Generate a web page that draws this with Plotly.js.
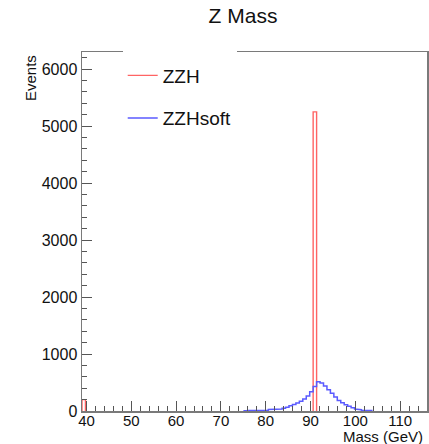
<!DOCTYPE html>
<html>
<head>
<meta charset="utf-8">
<script src="https://cdn.plot.ly/plotly-3.0.1.min.js"></script>
<style>html,body{margin:0;padding:0;background:#fff;}#chart{width:429px;height:444px;}</style>
</head>
<body>
<div id="chart"></div>
<script>
// ---- data ----
const histLow = 39;          // lower edge of the histogram (GeV)
const binWidth = 0.77;       // bin width (GeV), 100 bins 39..116
const seriesNames = ["ZZH", "ZZHsoft"];

// ZZH: sparse bins (index -> count)
const zzhBins = [0, 67];
const zzhCounts = [200, 5250];

// ZZHsoft: contiguous bins starting at this bin index
const softFirstBin = 47;
const softCounts = [5, 8, 8, 8, 8, 8, 10, 28, 30, 32, 36, 50, 68, 90, 115, 140, 170, 210, 265, 340,
                    430, 515, 490, 440, 375, 310, 245, 185, 145, 110, 82, 55, 35, 22, 12, 12, 10];

const xTickVals = [40, 50, 60, 70, 80, 90, 100, 110];
const yTickVals = [0, 1000, 2000, 3000, 4000, 5000, 6000];

// ---- build step outlines from the bins ----
function edge(k) { return histLow + k * binWidth; }
function stepRun(firstBin, counts) {
  const xs = [edge(firstBin)], ys = [0];
  counts.forEach((c, i) => {
    xs.push(edge(firstBin + i)); ys.push(c);
    xs.push(edge(firstBin + i + 1)); ys.push(c);
  });
  xs.push(edge(firstBin + counts.length)); ys.push(0);
  return {xs, ys};
}
const zzhX = [], zzhY = [];
zzhBins.forEach((b, i) => {
  const r = stepRun(b, [zzhCounts[i]]);
  if (i > 0) { zzhX.push(null); zzhY.push(null); }
  zzhX.push(...r.xs); zzhY.push(...r.ys);
});
const soft = stepRun(softFirstBin, softCounts);

const font = "Liberation Sans, Arial, Helvetica, sans-serif";

const traces = [
  {x: zzhX, y: zzhY, name: seriesNames[0], type: "scatter", mode: "lines",
   connectgaps: false, line: {color: "rgb(255,100,100)", width: 1.4}, legendgroup: "a"},
  {x: soft.xs, y: soft.ys, name: seriesNames[1], type: "scatter", mode: "lines",
   line: {color: "rgb(90,90,255)", width: 1.5}, legendgroup: "b"}
];

const axisCommon = {
  showgrid: false, zeroline: false, showline: true, mirror: true,
  linecolor: "#7a7a7a", linewidth: 1.5, ticks: "inside", ticklen: 10,
  tickcolor: "#555", tickwidth: 1
};

const layout = {
  width: 429, height: 444,
  margin: {l: 82, r: 2, t: 52, b: 33},
  paper_bgcolor: "#fff", plot_bgcolor: "#fff",
  title: {text: "Z Mass", font: {family: font, size: 21, color: "#111"},
          x: 243 / 429, xref: "container", xanchor: "center",
          y: 1 - 8 / 444, yref: "container", yanchor: "top"},
  xaxis: Object.assign({}, axisCommon, {
    range: [39, 116], tickmode: "array", tickvals: xTickVals,
    tickfont: {family: font, size: 15, color: "#111"}, ticklabelstandoff: -5,
    minor: {dtick: 2, tick0: 0, ticks: "inside", ticklen: 5, tickcolor: "#555"}
  }),
  yaxis: Object.assign({}, axisCommon, {
    range: [0, 6300], tickmode: "array", tickvals: yTickVals,
    tickfont: {family: font, size: 16, color: "#111"},
    minor: {dtick: 200, tick0: 0, ticks: "inside", ticklen: 5, tickcolor: "#555"}
  }),
  showlegend: true,
  legend: {
    x: 0.118, xanchor: "left", y: 1.02, yanchor: "top",
    bgcolor: "#fff", borderwidth: 0,
    font: {family: font, size: 19, color: "#111"},
    traceorder: "grouped", tracegroupgap: 15,
    title: {text: " ", font: {size: 9}}
  },
  annotations: [
    {text: "Mass (GeV)", xref: "paper", yref: "paper",
     x: 0.994, y: -0.071, xanchor: "right", yanchor: "middle", showarrow: false,
     font: {family: font, size: 15, color: "#111"}},
    {text: "Events", textangle: -90, xref: "paper", yref: "paper",
     x: -0.151, y: 0.997, xanchor: "center", yanchor: "top", showarrow: false,
     font: {family: font, size: 15, color: "#111"}}
  ]
};

Plotly.newPlot("chart", traces, layout, {displayModeBar: false, staticPlot: true});
</script>
</body>
</html>
